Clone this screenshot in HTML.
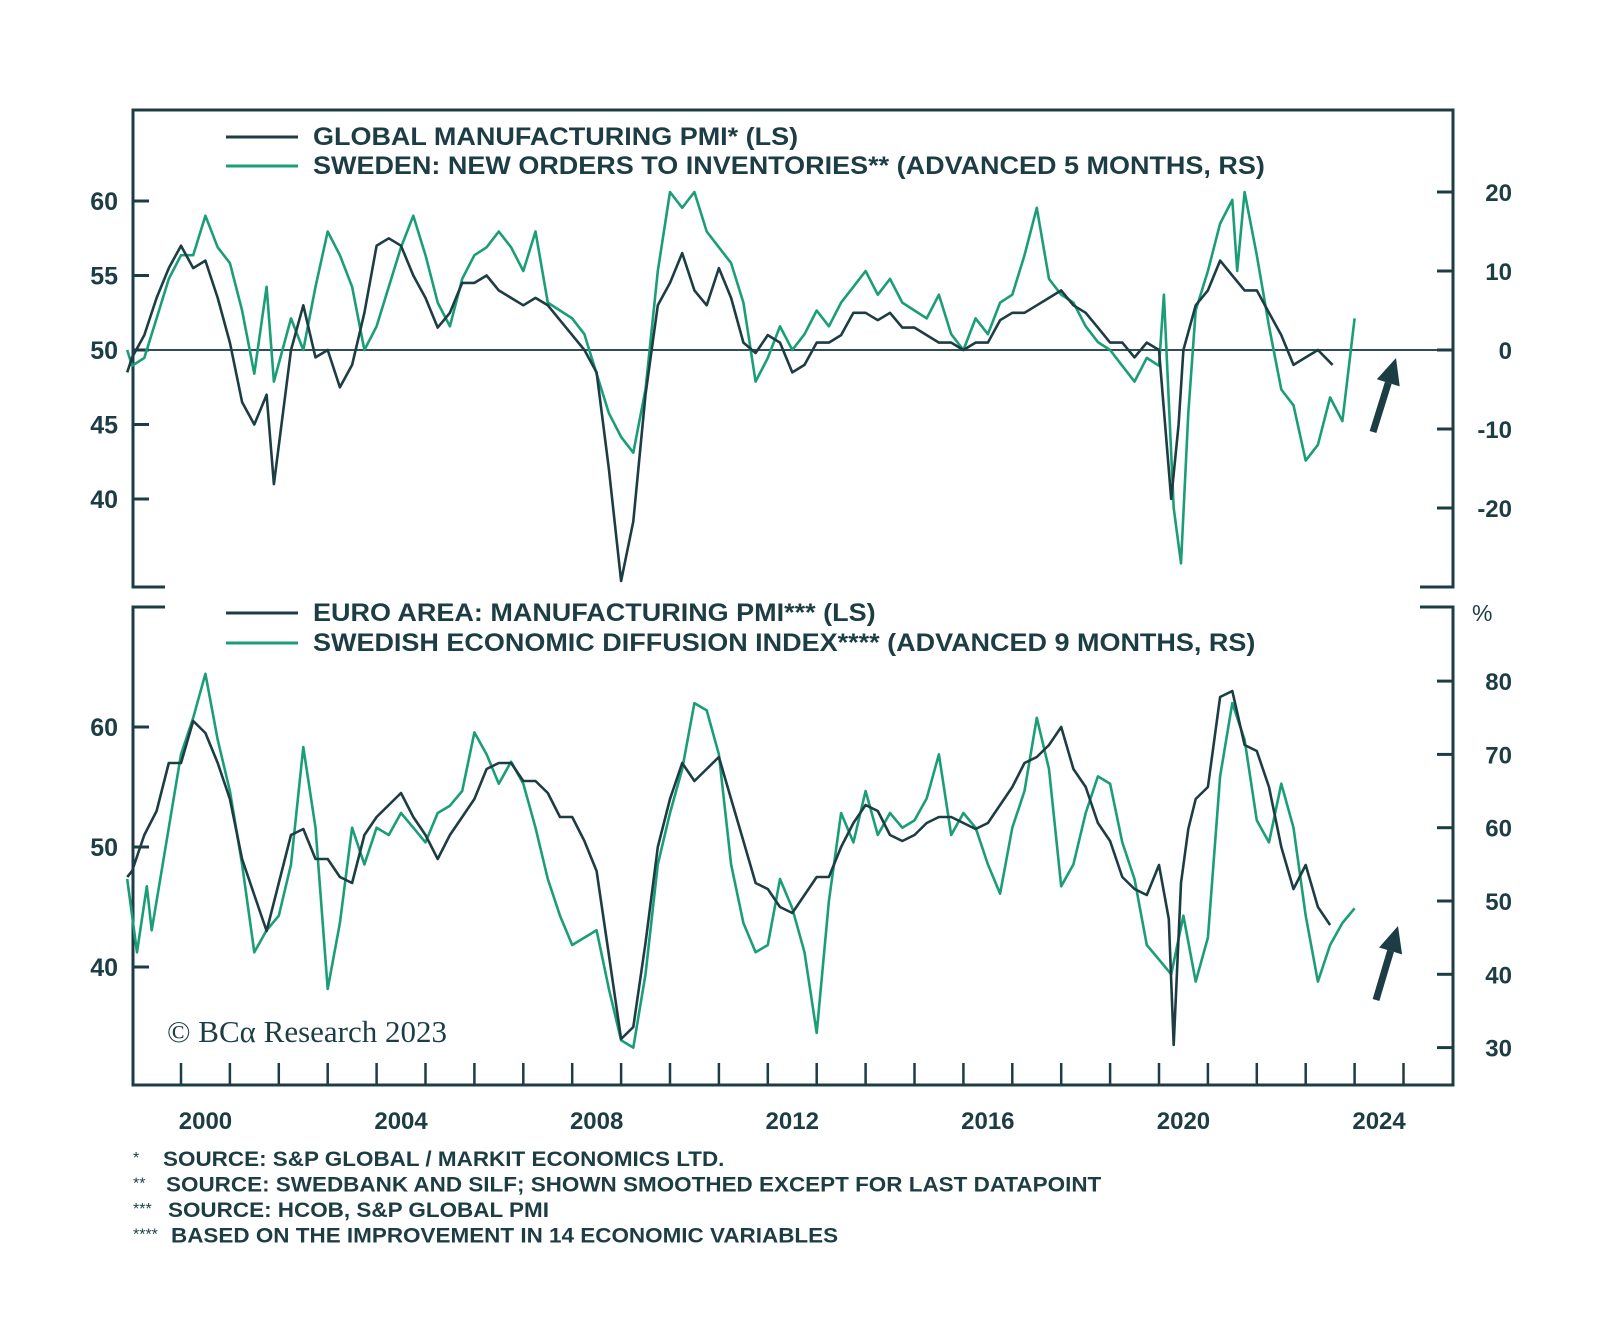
<!DOCTYPE html>
<html><head><meta charset="utf-8"><style>
html,body{margin:0;padding:0;background:#fff;}
svg text{font-family:"Liberation Sans",sans-serif;fill:#1d3d44;}
</style></head><body>
<svg id="chart" width="1600" height="1312" viewBox="0 0 1600 1312" xmlns="http://www.w3.org/2000/svg">
<g id="frame"></g>
<g id="marks"></g>
</svg>
<script>
// ---- data ----
const gYears=[1998.9,1999.0,1999.25,1999.5,1999.75,2000.0,2000.25,2000.5,2000.75,2001.0,2001.25,2001.5,2001.75,2001.9,2002.25,2002.5,2002.75,2003.0,2003.25,2003.5,2003.75,2004.0,2004.25,2004.5,2004.75,2005.0,2005.25,2005.5,2005.75,2006.0,2006.25,2006.5,2006.75,2007.0,2007.25,2007.5,2007.75,2008.0,2008.25,2008.5,2008.75,2009.0,2009.25,2009.5,2009.75,2010.0,2010.25,2010.5,2010.75,2011.0,2011.25,2011.5,2011.75,2012.0,2012.25,2012.5,2012.75,2013.0,2013.25,2013.5,2013.75,2014.0,2014.25,2014.5,2014.75,2015.0,2015.25,2015.5,2015.75,2016.0,2016.25,2016.5,2016.75,2017.0,2017.25,2017.5,2017.75,2018.0,2018.25,2018.5,2018.75,2019.0,2019.25,2019.5,2019.75,2020.0,2020.25,2020.4,2020.5,2020.75,2021.0,2021.25,2021.5,2021.75,2022.0,2022.25,2022.5,2022.75,2023.0,2023.25,2023.55];
const globalPMI=[48.5,49.5,51,53.5,55.5,57,55.5,56,53.5,50.5,46.5,45,47,41,50,53,49.5,50,47.5,49,52.5,57,57.5,57,55,53.5,51.5,52.5,54.5,54.5,55,54,53.5,53,53.5,53,52,51,50,48.5,42,34.5,38.5,47,53,54.5,56.5,54,53,55.5,53.5,50.5,49.8,51,50.5,48.5,49,50.5,50.5,51,52.5,52.5,52,52.5,51.5,51.5,51,50.5,50.5,50,50.5,50.5,52,52.5,52.5,53,53.5,54,53,52.5,51.5,50.5,50.5,49.5,50.5,50,40,45,50,53,54,56,55,54,54,52.5,51,49,49.5,50,49];
const sYears=[1998.9,1999.0,1999.25,1999.5,1999.75,2000.0,2000.25,2000.5,2000.75,2001.0,2001.25,2001.5,2001.75,2001.9,2002.25,2002.5,2002.75,2003.0,2003.25,2003.5,2003.75,2004.0,2004.25,2004.5,2004.75,2005.0,2005.25,2005.5,2005.75,2006.0,2006.25,2006.5,2006.75,2007.0,2007.25,2007.5,2007.75,2008.0,2008.25,2008.5,2008.75,2009.0,2009.25,2009.5,2009.75,2010.0,2010.25,2010.5,2010.75,2011.0,2011.25,2011.5,2011.75,2012.0,2012.25,2012.5,2012.75,2013.0,2013.25,2013.5,2013.75,2014.0,2014.25,2014.5,2014.75,2015.0,2015.25,2015.5,2015.75,2016.0,2016.25,2016.5,2016.75,2017.0,2017.25,2017.5,2017.75,2018.0,2018.25,2018.5,2018.75,2019.0,2019.25,2019.5,2019.75,2020.0,2020.1,2020.3,2020.45,2020.6,2020.75,2021.0,2021.25,2021.5,2021.6,2021.75,2022.0,2022.25,2022.5,2022.75,2023.0,2023.25,2023.5,2023.75,2024.0];
const swedenOI=[0,-2,-1,4,9,12,12,17,13,11,5,-3,8,-4,4,0,8,15,12,8,0,3,8,13,17,12,6,3,9,12,13,15,13,10,15,6,5,4,2,-3,-8,-11,-13,-5,10,20,18,20,15,13,11,6,-4,-1,3,0,2,5,3,6,8,10,7,9,6,5,4,7,2,0,4,2,6,7,12,18,9,7,6,3,1,0,-2,-4,-1,-2,7,-20,-27,-8,5,10,16,19,10,20,12,3,-5,-7,-14,-12,-6,-9,4];
const eYears=[1998.9,1999.0,1999.25,1999.5,1999.75,2000.0,2000.25,2000.5,2000.75,2001.0,2001.25,2001.5,2001.75,2002.0,2002.25,2002.5,2002.75,2003.0,2003.25,2003.5,2003.75,2004.0,2004.25,2004.5,2004.75,2005.0,2005.25,2005.5,2005.75,2006.0,2006.25,2006.5,2006.75,2007.0,2007.25,2007.5,2007.75,2008.0,2008.25,2008.5,2008.75,2009.0,2009.25,2009.5,2009.75,2010.0,2010.25,2010.5,2010.75,2011.0,2011.25,2011.5,2011.75,2012.0,2012.25,2012.5,2012.75,2013.0,2013.25,2013.5,2013.75,2014.0,2014.25,2014.5,2014.75,2015.0,2015.25,2015.5,2015.75,2016.0,2016.25,2016.5,2016.75,2017.0,2017.25,2017.5,2017.75,2018.0,2018.25,2018.5,2018.75,2019.0,2019.25,2019.5,2019.75,2020.0,2020.2,2020.3,2020.45,2020.6,2020.75,2021.0,2021.25,2021.5,2021.75,2022.0,2022.25,2022.5,2022.75,2023.0,2023.25,2023.5];
const euroPMI=[47.5,48,51,53,57,57,60.5,59.5,57,54,49,46,43,47,51,51.5,49,49,47.5,47,51,52.5,53.5,54.5,52.5,51,49,51,52.5,54,56.5,57,57,55.5,55.5,54.5,52.5,52.5,50.5,48,41,34,35,42,50,54,57,55.5,56.5,57.5,54,50.5,47,46.5,45,44.5,46,47.5,47.5,50,52,53.5,53,51,50.5,51,52,52.5,52.5,52,51.5,52,53.5,55,57,57.5,58.5,60,56.5,55,52,50.5,47.5,46.5,46,48.5,44,33.5,47,51.5,54,55,62.5,63,58.5,58,55,50,46.5,48.5,45,43.5];
const dYears=[1998.9,1999.1,1999.3,1999.4,1999.75,2000.0,2000.25,2000.5,2000.75,2001.0,2001.25,2001.5,2001.75,2002.0,2002.25,2002.5,2002.75,2003.0,2003.25,2003.5,2003.75,2004.0,2004.25,2004.5,2004.75,2005.0,2005.25,2005.5,2005.75,2006.0,2006.25,2006.5,2006.75,2007.0,2007.25,2007.5,2007.75,2008.0,2008.25,2008.5,2008.75,2009.0,2009.25,2009.5,2009.75,2010.0,2010.25,2010.5,2010.75,2011.0,2011.25,2011.5,2011.75,2012.0,2012.25,2012.5,2012.75,2013.0,2013.25,2013.5,2013.75,2014.0,2014.25,2014.5,2014.75,2015.0,2015.25,2015.5,2015.75,2016.0,2016.25,2016.5,2016.75,2017.0,2017.25,2017.5,2017.75,2018.0,2018.25,2018.5,2018.75,2019.0,2019.25,2019.5,2019.75,2020.0,2020.25,2020.5,2020.75,2021.0,2021.25,2021.5,2021.75,2022.0,2022.25,2022.5,2022.75,2023.0,2023.25,2023.5,2023.75,2024.0];
const diffusion=[53,43,52,46,60,70,75,81,72,65,55,43,46,48,55,71,60,38,47,60,55,60,59,62,60,58,62,63,65,73,70,66,69,66,60,53,48,44,45,46,38,31,30,40,55,62,68,77,76,70,55,47,43,44,53,49,43,32,50,62,58,65,59,62,60,61,64,70,59,62,60,55,51,60,65,75,68,52,55,62,67,66,58,53,44,42,40,48,39,45,67,77,72,61,58,66,60,48,39,44,47,49];
const yearTicks=[2000,2001,2002,2003,2004,2005,2006,2007,2008,2009,2010,2011,2012,2013,2014,2015,2016,2017,2018,2019,2020,2021,2022,2023,2024,2025];
const yearLabels=[2000,2004,2008,2012,2016,2020,2024];
const topLeftTicks=[40,45,50,55,60];
const topRightTicks=[-20,-10,0,10,20];
const botLeftTicks=[40,50,60];
const botRightTicks=[30,40,50,60,70,80];

// ---- scales ----
const X=y=>181+(y-2000)*48.9;
const yTL=v=>350-(v-50)*14.9;
const yTR=v=>350-v*7.9;
const yBL=v=>847-(v-50)*12.0;
const yBR=v=>901-(v-50)*7.33;

const NS='http://www.w3.org/2000/svg';
const frame=document.getElementById('frame'), marks=document.getElementById('marks');
const DARK='#1d3d44', GREEN='#1b9e78';
function mk(tag,attrs,parent,txt){const e=document.createElementNS(NS,tag);for(const k in attrs)e.setAttribute(k,attrs[k]);if(txt!==undefined)e.textContent=txt;parent.appendChild(e);return e;}

let e;
e=mk('path',{d:'M165 587 H133 V110 H1453 V587 H1420',fill:'none',stroke:DARK,'stroke-width':3},frame);


e=mk('path',{d:'M165 607 H133 V1085 H1453 V607 H1420',fill:'none',stroke:DARK,'stroke-width':3},frame);


e=mk('line',{x1:133,x2:1453,y1:yTL(50),y2:yTL(50),stroke:'#2f4f55','stroke-width':2},frame);



function tickL(vals,sc,nm){vals.forEach(v=>{const y=sc(v);
 e=mk('line',{x1:133,x2:149,y1:y,y2:y,stroke:DARK,'stroke-width':3},frame);
 
 
 e=mk('text',{x:118,y:y+9,'text-anchor':'end','font-size':25,'font-weight':'bold'},frame,String(v));
 
 });}
function tickR(vals,sc,nm){vals.forEach(v=>{const y=sc(v);
 e=mk('line',{x1:1437,x2:1453,y1:y,y2:y,stroke:DARK,'stroke-width':3},frame);
 
 
 e=mk('text',{x:1512,y:y+9,'text-anchor':'end','font-size':24,'font-weight':'bold'},frame,String(v));
 
 });}
tickL(topLeftTicks,yTL,'top-left-axis');
tickR(topRightTicks,yTR,'top-right-axis');
tickL(botLeftTicks,yBL,'bottom-left-axis');
tickR(botRightTicks,yBR,'bottom-right-axis');
e=mk('text',{x:1472,y:621,'font-size':23},frame,'%');



yearTicks.forEach(t=>{
 e=mk('line',{x1:X(t),x2:X(t),y1:1063,y2:1085,stroke:DARK,'stroke-width':2.5},frame);
 
 });
yearLabels.forEach(t=>{
 e=mk('text',{x:X(t+0.5),y:1129,'text-anchor':'middle','font-size':24,'font-weight':'bold'},frame,String(t));
 
 });

function line(xs,vs,sc,col,nm){const d=xs.map((x,i)=>(i?'L':'M')+X(x).toFixed(1)+' '+sc(vs[i]).toFixed(1)).join(' ');
 e=mk('path',{d:d,fill:'none',stroke:col,'stroke-width':2.6,'stroke-linejoin':'round'},marks);
 
 }
line(sYears,swedenOI,yTR,GREEN,'sweden-orders-inventories-line');
line(gYears,globalPMI,yTL,DARK,'global-pmi-line');
line(dYears,diffusion,yBR,GREEN,'swedish-diffusion-line');
line(eYears,euroPMI,yBL,DARK,'euro-pmi-line');

function leg(y,col,txt,nm){
 e=mk('line',{x1:226,x2:298,y1:y-8,y2:y-8,stroke:col,'stroke-width':3},frame);
 
 
 e=mk('text',{x:313,y:y,'font-size':25,'font-weight':'bold',transform:'translate(313 0) scale(1.08 1) translate(-313 0)'},frame,txt);
 
 }
leg(145,DARK,'GLOBAL MANUFACTURING PMI* (LS)','legend-global-pmi');
leg(174,GREEN,'SWEDEN: NEW ORDERS TO INVENTORIES** (ADVANCED 5 MONTHS, RS)','legend-sweden-orders');
leg(621,DARK,'EURO AREA: MANUFACTURING PMI*** (LS)','legend-euro-pmi');
leg(651,GREEN,'SWEDISH ECONOMIC DIFFUSION INDEX**** (ADVANCED 9 MONTHS, RS)','legend-diffusion');

function arrow(x1,y1,x2,y2,nm){const g=mk('g',{},marks);
 
 
 const a=Math.atan2(y2-y1,x2-x1),L=26,W=12;
 const bx=x2-L*Math.cos(a),by=y2-L*Math.sin(a);
 mk('line',{x1:x1,y1:y1,x2:bx,y2:by,stroke:DARK,'stroke-width':7},g);
 mk('polygon',{points:`${x2},${y2} ${bx+W*Math.sin(a)},${by-W*Math.cos(a)} ${bx-W*Math.sin(a)},${by+W*Math.cos(a)}`,fill:DARK},g);}
arrow(1373,432,1396,358,'top-up-arrow');
arrow(1376,1000,1398,926,'bottom-up-arrow');

e=mk('text',{x:167,y:1042,'font-size':31,style:'font-family:"Liberation Serif",serif'},frame,'© BCα Research 2023');



const notes=[['*','SOURCE: S&P GLOBAL / MARKIT ECONOMICS LTD.',163],['**','SOURCE: SWEDBANK AND SILF; SHOWN SMOOTHED EXCEPT FOR LAST DATAPOINT',166],['***','SOURCE: HCOB, S&P GLOBAL PMI',168],['****','BASED ON THE IMPROVEMENT IN 14 ECONOMIC VARIABLES',171]];
notes.forEach((n,i)=>{const y=1166+i*25.5;
 e=mk('text',{x:133,y:y-3,'font-size':16},frame,n[0]);
 
 
 e=mk('text',{x:n[2],y:y,'font-size':21,'font-weight':'bold',transform:`translate(${n[2]} 0) scale(1.07 1) translate(${-n[2]} 0)`},frame,n[1]);
 
 });
</script>
</body></html>
